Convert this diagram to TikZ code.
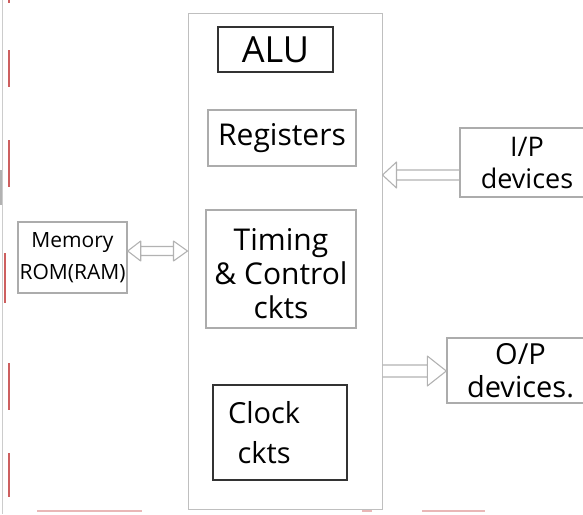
\documentclass[tikz,border=0pt]{standalone}
\usepackage{fontspec}
\setmainfont{Open Sans}
\usetikzlibrary{calc}
\definecolor{marginred}{RGB}{205,95,95}
\tikzset{
  box/.style={draw=gray!65, line width=1.4pt, inner sep=0pt, align=center},
  darkbox/.style={draw=black!80, line width=2pt, inner sep=0pt, align=center},
  txt/.style={font=\fontsize{30}{34}\selectfont},
  harrow/.style={draw=gray!60, line width=1.1pt, line join=round},
  margin/.style={draw=marginred, line width=1.1pt}
}
\begin{document}
\begin{tikzpicture}[x=1pt,y=-1pt]
\useasboundingbox (0,0) rectangle (583,514);
% page margins
\draw[gray!40, line width=0.8pt] (2,0) -- (2,514);
\draw[gray!60, line width=2pt] (1,170) -- (1,205);
\foreach \a/\b in {0/3,50/87,140/187,363/410,453/497}{\draw[margin] (9,\a) -- (9,\b);}
\draw[margin] (5,253) -- (5,303);
\foreach \a/\b in {37/142,362/372,422/485}{\draw[marginred!45, line width=1.2pt] (\a,511) -- (\b,511);}
% CPU
\node[draw=gray!50, line width=1pt, minimum width=194, minimum height=496] (cpu) at (285,261) {};
\node[darkbox, font=\fontsize{36}{36}\selectfont, minimum width=115, minimum height=45] (alu) at (275.5,49.5) {ALU};
\node[box, txt, minimum width=148, minimum height=56] (reg) at (282,138) {Registers};
\node[box, txt, minimum width=150, minimum height=118] (tim) at (281,269) {\rule{0pt}{32pt}Timing\\\&\ Control\\ckts};
\node[darkbox, font=\fontsize{29}{40}\selectfont, align=left, inner xsep=15pt, text width=104pt, minimum height=95] (clk) at (280,432.5) {Clock\\\ ckts};
% peripherals
\node[box, font=\fontsize{21}{32}\selectfont, minimum width=109, minimum height=71] (mem) at (72.5,257.5) {Memory\\ROM(RAM)};
\node[box, font=\fontsize{27}{32}\selectfont, minimum width=134, minimum height=69] (ip) at (527,162.5) {I/P\\devices};
\node[box, font=\fontsize{29}{33}\selectfont, minimum width=147, minimum height=65] (op) at (520.5,370.5) {O/P\\devices.};
% memory <-> cpu
\coordinate (ma) at ($(mem.east)+(0,-6.5)$);
\coordinate (mb) at (ma -| cpu.west);
\draw[harrow] ($(ma)+(13,-4.5)$) -- ($(mb)+(-14,-4.5)$)
  ($(ma)+(13,4.5)$) -- ($(mb)+(-14,4.5)$)
  ($(ma)+(13,-10)$) -- (ma) -- ($(ma)+(13,10)$) -- cycle
  ($(mb)+(-14,-10)$) -- (mb) -- ($(mb)+(-14,10)$) -- cycle;
% I/P -> cpu
\coordinate (ia) at ($(ip.west)+(0,12.5)$);
\coordinate (ib) at (ia -| cpu.east);
\draw[harrow] (ia) ++(0,-5) -- ($(ib)+(14,-5)$)
  (ia) ++(0,5) -- ($(ib)+(14,5)$)
  ($(ib)+(14,-13)$) -- (ib) -- ($(ib)+(14,13)$) -- cycle;
% cpu -> O/P
\coordinate (ob) at ($(op.west)+(0,0.5)$);
\coordinate (oa) at (ob -| cpu.east);
\draw[harrow] (oa) ++(0,-6) -- ($(ob)+(-19,-6)$)
  (oa) ++(0,6) -- ($(ob)+(-19,6)$)
  ($(ob)+(-19,-15)$) -- (ob) -- ($(ob)+(-19,15)$) -- cycle;
\end{tikzpicture}
\end{document}
